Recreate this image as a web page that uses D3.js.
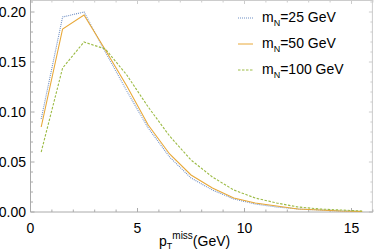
<!DOCTYPE html>
<meta charset="utf-8">
<style>
body { margin: 0; background: #fff; }
text { font-family: "Liberation Sans", Arial, sans-serif; }
</style>
<body>
<script src="https://cdn.jsdelivr.net/npm/d3@7"></script>
<script>

var ptBins = [0.5, 1.5, 2.5, 3.5, 4.5, 5.5, 6.5, 7.5, 8.5, 9.5, 10.5, 11.5, 12.5, 13.5, 14.5, 15.5];
var mN25 = [0.093, 0.195, 0.200, 0.160, 0.121, 0.084, 0.055, 0.034, 0.022, 0.013, 0.008, 0.005, 0.003, 0.002, 0.001, 0.0005];
var mN50 = [0.085, 0.183, 0.197, 0.162, 0.126, 0.087, 0.058, 0.037, 0.024, 0.014, 0.009, 0.006, 0.003, 0.002, 0.001, 0.0005];
var mN100 = [0.060, 0.144, 0.170, 0.163, 0.137, 0.105, 0.076, 0.052, 0.035, 0.022, 0.014, 0.009, 0.005, 0.003, 0.002, 0.001];
var seriesNames = ["25", "50", "100"];
var xTicks = [0, 5, 10, 15];
var yTicks = [0.00, 0.05, 0.10, 0.15, 0.20];

var width = 374, height = 252;
var svg = d3.select("body").append("svg")
    .attr("width", width)
    .attr("height", height);

var x = d3.scaleLinear().domain([0, 16]).range([30.5, 372.9]);
var y = d3.scaleLinear().domain([0, 0.212]).range([212, 0]);

var axisColor = "#aaa";
var frameColor = "#ccc";

// frame (top / right)
svg.append("line").attr("x1", x(0)).attr("x2", x(16)).attr("y1", 0.5).attr("y2", 0.5)
    .attr("stroke", frameColor);
svg.append("line").attr("x1", x(16) - 0.5).attr("x2", x(16) - 0.5).attr("y1", 0).attr("y2", y(0))
    .attr("stroke", frameColor);

// minor/major ticks
var xMinor = d3.range(0, 17, 1);
var yMinor = d3.range(0, 0.211, 0.01);
var g = svg.append("g");
xMinor.forEach(function(v) {
  var len = v % 5 == 0 ? 4 : 2.5;
  g.append("line").attr("x1", x(v)).attr("x2", x(v)).attr("y1", y(0)).attr("y2", y(0) - len).attr("stroke", axisColor);
  g.append("line").attr("x1", x(v)).attr("x2", x(v)).attr("y1", 0).attr("y2", len).attr("stroke", frameColor);
});
yMinor.forEach(function(v, i) {
  var len = i % 5 == 0 ? 4 : 2.5;
  g.append("line").attr("x1", x(0)).attr("x2", x(0) + len).attr("y1", y(v)).attr("y2", y(v)).attr("stroke", axisColor);
  g.append("line").attr("x1", x(16)).attr("x2", x(16) - len).attr("y1", y(v)).attr("y2", y(v)).attr("stroke", frameColor);
});

// axes
svg.append("line").attr("x1", x(0)).attr("x2", x(16)).attr("y1", y(0)).attr("y2", y(0)).attr("stroke", axisColor);
svg.append("line").attr("x1", x(0)).attr("x2", x(0)).attr("y1", 0).attr("y2", y(0)).attr("stroke", axisColor);

svg.selectAll(".xlab").data(xTicks).enter().append("text")
    .attr("x", function(d) { return x(d); })
    .attr("y", 233)
    .attr("text-anchor", "middle")
    .attr("font-size", 14)
    .text(function(d) { return d; });

svg.selectAll(".ylab").data(yTicks).enter().append("text")
    .attr("x", 26)
    .attr("y", function(d) { return y(d) + 5; })
    .attr("text-anchor", "end")
    .attr("font-size", 14)
    .text(function(d) { return d.toFixed(2); });

// x axis title
var xt = svg.append("text").attr("x", 159).attr("y", 246).attr("font-size", 14);
xt.append("tspan").text("p");
xt.append("tspan").attr("font-size", 9).attr("dy", 3).text("T");
xt.append("tspan").attr("font-size", 10).attr("dy", -10).text("miss");
xt.append("tspan").attr("dy", 7).text("(GeV)");

// series
var colors = ["#6F8FC4", "#E8A838", "#9CBB45"];
var dashes = ["1,1", null, "2.5,1.5"];
var allSeries = [mN25, mN50, mN100];
var line = d3.line()
    .x(function(d, i) { return x(ptBins[i]); })
    .y(function(d) { return y(d); });

allSeries.forEach(function(s, k) {
  svg.append("path")
      .datum(s)
      .attr("fill", "none")
      .attr("stroke", colors[k])
      .attr("stroke-width", 1.1)
      .attr("stroke-dasharray", dashes[k])
      .attr("d", line);
});

// legend
var legendY = [18, 44, 70];
seriesNames.forEach(function(n, k) {
  svg.append("line")
      .attr("x1", 238).attr("x2", 253)
      .attr("y1", legendY[k]).attr("y2", legendY[k])
      .attr("stroke", colors[k])
      .attr("stroke-width", 1)
      .attr("stroke-dasharray", dashes[k]);
  var t = svg.append("text").attr("x", 262).attr("y", legendY[k] + 4).attr("font-size", 14);
  t.append("tspan").text("m");
  t.append("tspan").attr("font-size", 9).attr("dy", 4).text("N");
  t.append("tspan").attr("dy", -4).text("=" + n + " GeV");
});

</script>
</body>
